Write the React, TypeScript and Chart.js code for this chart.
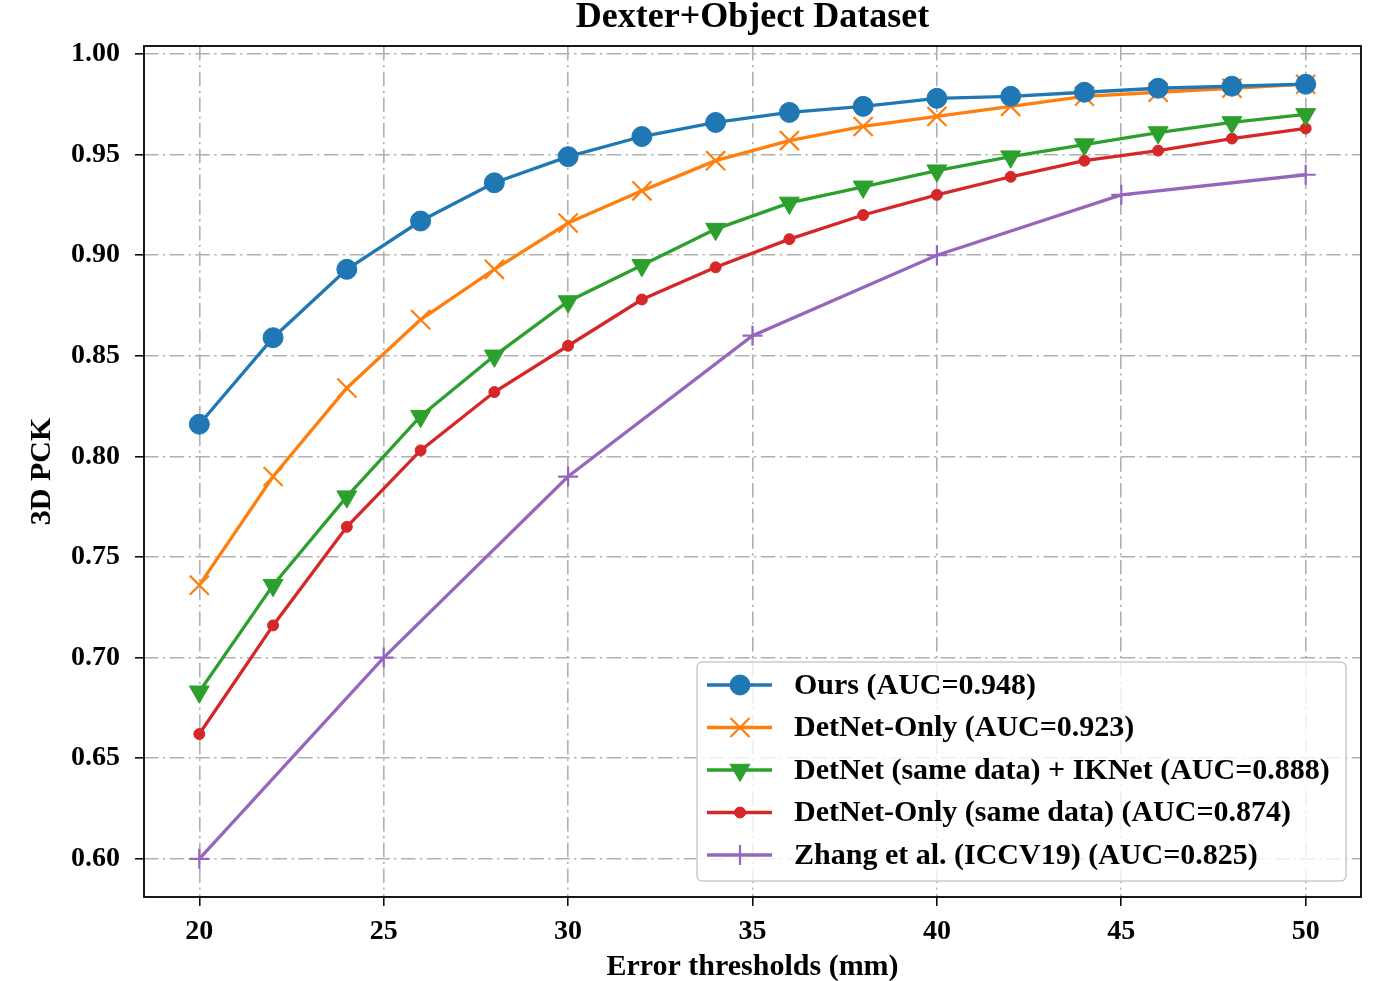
import React, { useEffect, useRef } from 'react';
import { Chart, registerables } from 'chart.js';
import { drawPoint } from 'chart.js/helpers';

Chart.register(...registerables);

const FONT = "'Liberation Serif', 'Times New Roman', serif";

const chartTitle = 'Dexter+Object Dataset';
const xAxisTitle = 'Error thresholds (mm)';
const yAxisTitle = '3D PCK';

const thresholds = [20, 22, 24, 26, 28, 30, 32, 34, 36, 38, 40, 42, 44, 46, 48, 50];
const oursPCK = [0.816, 0.859, 0.893, 0.917, 0.936, 0.949, 0.959, 0.966, 0.971, 0.974, 0.978, 0.979, 0.981, 0.983, 0.984, 0.985];
const detnetOnlyPCK = [0.736, 0.790, 0.834, 0.868, 0.893, 0.916, 0.932, 0.947, 0.957, 0.964, 0.969, 0.974, 0.979, 0.981, 0.983, 0.985];
const detnetIKPCK = [0.683, 0.736, 0.780, 0.820, 0.850, 0.877, 0.895, 0.913, 0.926, 0.934, 0.942, 0.949, 0.955, 0.961, 0.966, 0.970];
const detnetSamePCK = [0.662, 0.716, 0.765, 0.803, 0.832, 0.855, 0.878, 0.894, 0.908, 0.920, 0.930, 0.939, 0.947, 0.952, 0.958, 0.963];
const zhangThresholds = [20, 25, 30, 35, 40, 45, 50];
const zhangPCK = [0.60, 0.70, 0.79, 0.86, 0.90, 0.93, 0.94];

const seriesLabels = [
  'Ours (AUC=0.948)',
  'DetNet-Only (AUC=0.923)',
  'DetNet (same data) + IKNet (AUC=0.888)',
  'DetNet-Only (same data) (AUC=0.874)',
  'Zhang et al. (ICCV19) (AUC=0.825)',
];
const seriesColors = ['#1f77b4', '#ff7f0e', '#2ca02c', '#d62728', '#9467bd'];

const xTickValues = [20, 25, 30, 35, 40, 45, 50];
const yTickValues = [0.6, 0.65, 0.7, 0.75, 0.8, 0.85, 0.9, 0.95, 1.0];

const markerStyles = [
  { pointStyle: 'circle', radius: 10, borderWidth: 1, rotation: 0 },
  { pointStyle: 'crossRot', radius: 13.5, borderWidth: 2.2, rotation: 0 },
  { pointStyle: 'triangle', radius: 11.5, borderWidth: 1, rotation: 180 },
  { pointStyle: 'circle', radius: 5.5, borderWidth: 1, rotation: 0 },
  { pointStyle: 'cross', radius: 10, borderWidth: 2.2, rotation: 0 },
];

const toPoints = (xs: number[], ys: number[]) => xs.map((x, i) => ({ x, y: ys[i] }));

const frameAndLegend = {
  id: 'frameAndLegend',
  afterDraw(chart: any) {
    const ctx = chart.ctx as CanvasRenderingContext2D;
    const { left, right, top, bottom } = chart.chartArea;
    ctx.save();
    ctx.setLineDash([]);
    ctx.strokeStyle = '#000';
    ctx.lineWidth = 1.8;
    ctx.strokeRect(left, top, right - left, bottom - top);

    // title, centred on the plot area
    ctx.fillStyle = '#000';
    ctx.font = `bold 36px ${FONT}`;
    ctx.textAlign = 'center';
    ctx.textBaseline = 'middle';
    ctx.fillText(chartTitle, (left + right) / 2, 18);

    // legend box
    const bw = 649;
    const bh = 219;
    const bx = right - 15 - bw;
    const by = bottom - 16 - bh;
    ctx.beginPath();
    (ctx as any).roundRect(bx, by, bw, bh, 5);
    ctx.fillStyle = 'rgba(255,255,255,0.8)';
    ctx.fill();
    ctx.strokeStyle = '#cccccc';
    ctx.lineWidth = 1.5;
    ctx.stroke();

    ctx.font = `bold 30px ${FONT}`;
    ctx.textBaseline = 'middle';
    ctx.textAlign = 'left';
    seriesLabels.forEach((label, i) => {
      const cy = by + 23 + i * 42.5;
      const color = seriesColors[i];
      ctx.strokeStyle = color;
      ctx.fillStyle = color;
      ctx.lineWidth = 3.3;
      ctx.beginPath();
      ctx.moveTo(bx + 10, cy);
      ctx.lineTo(bx + 75, cy);
      ctx.stroke();
      const m = markerStyles[i];
      ctx.lineWidth = m.borderWidth;
      drawPoint(ctx, { pointStyle: m.pointStyle as any, rotation: m.rotation, radius: m.radius, borderWidth: m.borderWidth }, bx + 43, cy);
      ctx.fillStyle = '#000';
      ctx.fillText(label, bx + 97, cy + 1);
    });
    ctx.restore();
  },
};

export default function App() {
  const canvasRef = useRef<HTMLCanvasElement | null>(null);

  useEffect(() => {
    if (!canvasRef.current) return;
    const seriesData = [
      toPoints(thresholds, oursPCK),
      toPoints(thresholds, detnetOnlyPCK),
      toPoints(thresholds, detnetIKPCK),
      toPoints(thresholds, detnetSamePCK),
      toPoints(zhangThresholds, zhangPCK),
    ];
    const gridDash = [14.5, 4.5, 2.2, 4.5];
    const gridOpts: any = {
      color: '#b0b0b0',
      lineWidth: 1.6,
      tickLength: 9,
      tickColor: '#000',
      tickWidth: 1.5,
      borderDash: gridDash,
      tickBorderDash: [],
    };
    const chart = new Chart(canvasRef.current, {
      type: 'line',
      data: {
        datasets: seriesData.map((data, i) => ({
          label: seriesLabels[i],
          data,
          borderColor: seriesColors[i],
          backgroundColor: seriesColors[i],
          borderWidth: 3.3,
          pointStyle: markerStyles[i].pointStyle as any,
          pointRadius: markerStyles[i].radius,
          pointHoverRadius: markerStyles[i].radius,
          pointBorderWidth: markerStyles[i].borderWidth,
          pointRotation: markerStyles[i].rotation,
          pointBackgroundColor: seriesColors[i],
          pointBorderColor: seriesColors[i],
          fill: false,
          tension: 0,
        })),
      },
      options: {
        animation: false,
        responsive: false,
        devicePixelRatio: 1,
        layout: { padding: { left: 0, right: 31, top: 46, bottom: 0 } },
        plugins: {
          legend: { display: false },
          tooltip: { enabled: false },
          title: { display: false },
        },
        scales: {
          x: {
            type: 'linear',
            min: 18.5,
            max: 51.5,
            afterBuildTicks: (s: any) => {
              s.ticks = xTickValues.map((v) => ({ value: v }));
            },
            afterFit: (s: any) => {
              s.height = 84;
            },
            ticks: {
              color: '#000',
              font: { family: FONT, size: 28, weight: 'bold' },
              padding: 9,
              maxRotation: 0,
              callback: (v: any) => String(v),
            },
            grid: gridOpts,
            border: { display: false, dash: gridDash } as any,
            title: {
              display: true,
              text: xAxisTitle,
              color: '#000',
              font: { family: FONT, size: 30, weight: 'bold', lineHeight: 1 },
              padding: { top: 0, bottom: -1 },
            },
          },
          y: {
            type: 'linear',
            min: 0.581,
            max: 1.004,
            afterBuildTicks: (s: any) => {
              s.ticks = yTickValues.map((v) => ({ value: v }));
            },
            afterFit: (s: any) => {
              s.width = 144;
            },
            ticks: {
              color: '#000',
              font: { family: FONT, size: 28, weight: 'bold' },
              padding: 15,
              callback: (v: any) => Number(v).toFixed(2),
            },
            grid: gridOpts,
            border: { display: false, dash: gridDash } as any,
            title: {
              display: true,
              text: yAxisTitle,
              color: '#000',
              font: { family: FONT, size: 30, weight: 'bold', lineHeight: 1 },
              padding: { top: 27, bottom: 0 },
            },
          },
        },
      },
      plugins: [frameAndLegend],
    });
    return () => chart.destroy();
  }, []);

  return (
    <div style={{ position: 'absolute', left: 0, top: 0, width: 1392, height: 981, background: '#fff' }}>
      <canvas ref={canvasRef} width={1392} height={981} style={{ display: 'block', width: 1392, height: 981 }} />
    </div>
  );
}
